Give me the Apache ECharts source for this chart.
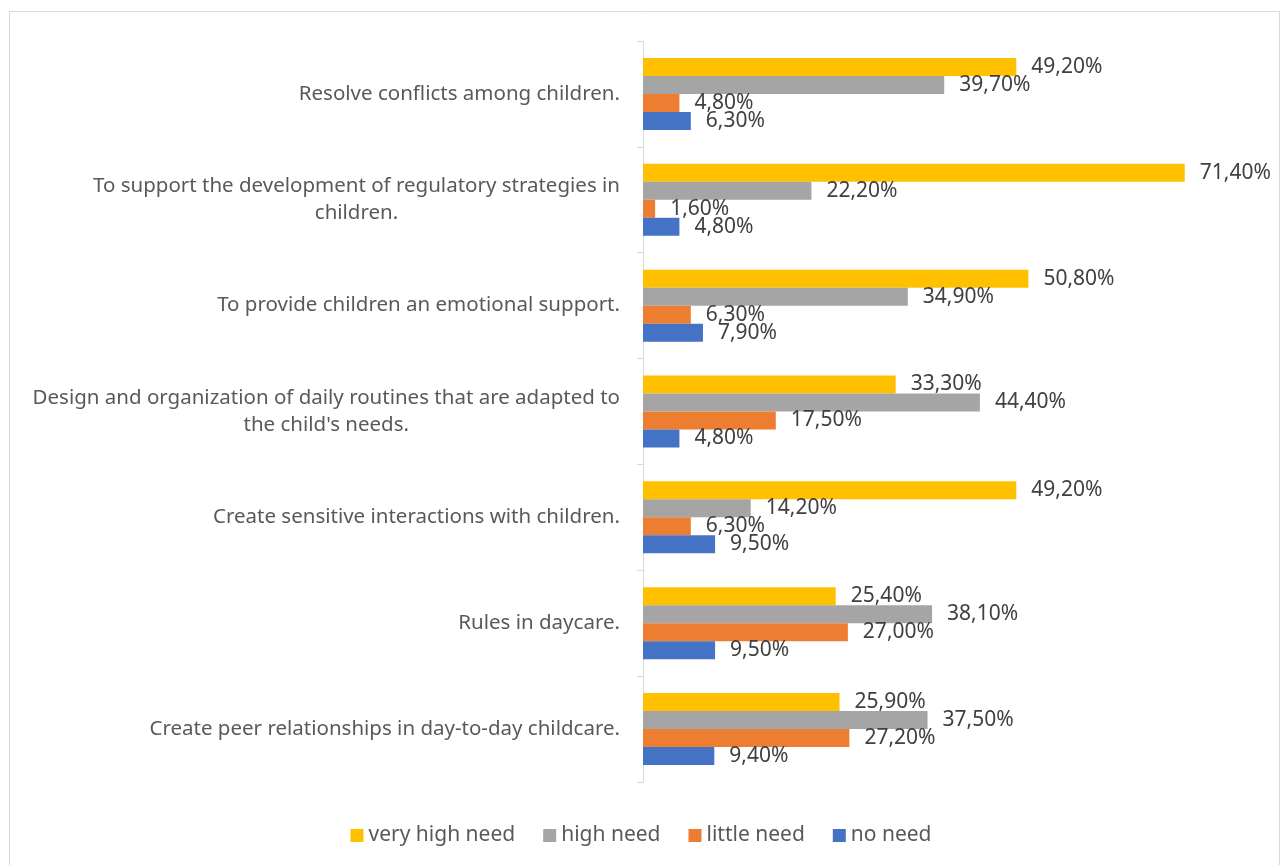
<!DOCTYPE html>
<html>
<head>
<meta charset="utf-8">
<script src="https://cdn.jsdelivr.net/npm/echarts@6/dist/echarts.min.js"></script>
<style>
html,body{margin:0;padding:0;background:#fff;}
#chart{width:1282px;height:865px;}
</style>
</head>
<body>
<div id="chart"></div>
<script>
const categories = [
  "Resolve conflicts among children.",
  "To support the development of regulatory strategies in\nchildren.",
  "To provide children an emotional support.",
  "Design and organization of daily routines that are adapted to\nthe child's needs.",
  "Create sensitive interactions with children.",
  "Rules in daycare.",
  "Create peer relationships in day-to-day childcare."
];
const seriesNames = ["very high need", "high need", "little need", "no need"];
const veryHighNeed = [49.2, 71.4, 50.8, 33.3, 49.2, 25.4, 25.9];
const highNeed     = [39.7, 22.2, 34.9, 44.4, 14.2, 38.1, 37.5];
const littleNeed   = [4.8, 1.6, 6.3, 17.5, 6.3, 27.0, 27.2];
const noNeed       = [6.3, 4.8, 7.9, 4.8, 9.5, 9.5, 9.4];
const colors = ["#FFC000", "#A5A5A5", "#ED7D31", "#4472C4"];

const FONT = "'Noto Sans', 'Open Sans', sans-serif";
const chart = echarts.init(document.getElementById('chart'), null, {renderer: 'canvas'});
const dataSets = [veryHighNeed, highNeed, littleNeed, noNeed];

chart.setOption({
  animation: false,
  backgroundColor: '#ffffff',
  graphic: [{
    type: 'rect',
    shape: {x: 9.5, y: 11.5, width: 1270, height: 870},
    style: {fill: 'none', stroke: '#D9D9D9', lineWidth: 1},
    silent: true
  }],
  grid: {left: 643, right: 32, top: 41, bottom: 83},
  legend: {
    bottom: 14,
    left: 'center',
    icon: 'rect',
    itemWidth: 13,
    itemHeight: 13,
    itemGap: 28,
    data: seriesNames,
    textStyle: {fontFamily: FONT, fontSize: 21, color: '#595959'}
  },
  xAxis: {
    type: 'value',
    min: 0,
    max: 80,
    show: false
  },
  yAxis: {
    type: 'category',
    inverse: true,
    data: categories,
    axisLine: {show: true, lineStyle: {color: '#D9D9D9', width: 1}},
    axisTick: {show: true, length: 6, lineStyle: {color: '#D9D9D9'}},
    axisLabel: {
      margin: 23,
      fontFamily: FONT,
      fontSize: 20.5,
      color: '#595959',
      lineHeight: 27,
      formatter: function (v) {
        return v.split('\n').map(function (l) { return '{c|' + l + '}'; }).join('\n');
      },
      rich: {
        c: {align: 'center', fontFamily: FONT, fontSize: 20.5, color: '#595959', lineHeight: 27}
      }
    },
    splitLine: {show: false}
  },
  series: seriesNames.map(function (name, k) {
    return {
      name: name,
      type: 'bar',
      data: dataSets[k],
      barWidth: 18,
      barGap: '0%',
      itemStyle: {color: colors[k]},
      label: {
        show: true,
        position: 'right',
        distance: 15,
        fontFamily: FONT,
        fontSize: 21,
        color: '#404040',
        formatter: function (p) { return p.value.toFixed(2).replace('.', ',') + '%'; }
      }
    };
  })
});
</script>
</body>
</html>
